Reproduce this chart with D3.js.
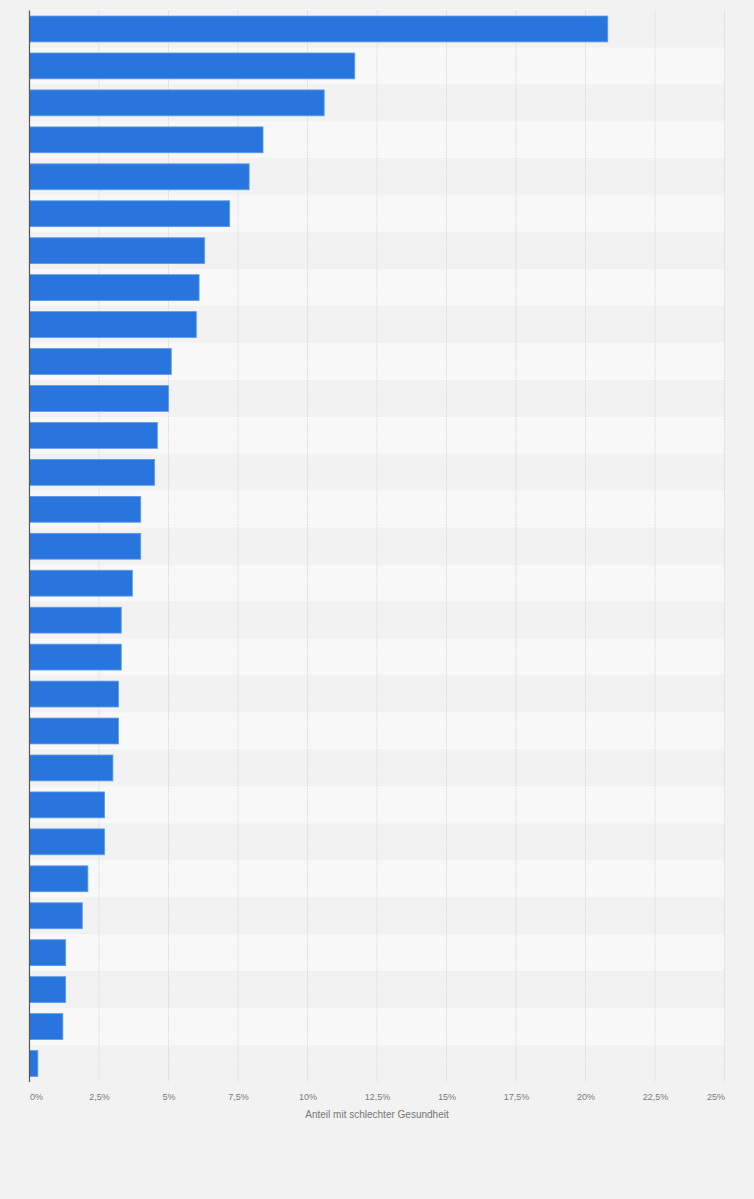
<!DOCTYPE html>
<html>
<head>
<meta charset="utf-8">
<script src="https://cdn.jsdelivr.net/npm/d3@7"></script>
<style>
  body { margin: 0; background: #f2f2f2; }
  svg { display: block; font-family: "Liberation Sans", Arial, sans-serif; }
</style>
</head>
<body>
<svg id="chart"></svg>
<script>
// rank of each bar (no category labels are shown in the chart)
const categories = ["1", "2", "3", "4", "5", "6", "7", "8", "9", "10",
  "11", "12", "13", "14", "15", "16", "17", "18", "19", "20",
  "21", "22", "23", "24", "25", "26", "27", "28", "29"];
const shares = [20.8, 11.7, 10.6, 8.4, 7.9, 7.2, 6.3, 6.1, 6.0, 5.1,
  5.0, 4.6, 4.5, 4.0, 4.0, 3.7, 3.3, 3.3, 3.2, 3.2,
  3.0, 2.7, 2.7, 2.1, 1.9, 1.3, 1.3, 1.2, 0.3];
const tickValues = [0, 2.5, 5, 7.5, 10, 12.5, 15, 17.5, 20, 22.5, 25];
const tickLabels = ["0%", "2,5%", "5%", "7,5%", "10%", "12,5%", "15%", "17,5%", "20%", "22,5%", "25%"];
const axisTitle = "Anteil mit schlechter Gesundheit";

const svgWidth = 754, svgHeight = 1199;
const margin = { top: 10.5, right: 29.5, bottom: 117, left: 29.5 };

const barColor = "#2876dd";

const svg = d3.select("#chart")
  .attr("width", svgWidth)
  .attr("height", svgHeight);

const xScale = d3.scaleLinear().domain([0, 25])
  .range([margin.left, svgWidth - margin.right]);

const yScale = d3.scaleBand().domain(categories)
  .range([margin.top, svgHeight - margin.bottom])
  .paddingInner(0.3)
  .paddingOuter(0.15);

const rowScale = d3.scaleBand().domain(categories)
  .range([margin.top, svgHeight - margin.bottom]);

// alternating row stripes
svg.append("g")
  .selectAll("rect")
  .data(categories)
  .enter()
  .append("rect")
  .attr("x", margin.left)
  .attr("y", d => rowScale(d))
  .attr("width", xScale(25) - margin.left)
  .attr("height", rowScale.bandwidth())
  .attr("fill", (d, i) => i % 2 === 0 ? "#f2f2f2" : "#f8f8f8");

// vertical grid lines
svg.append("g")
  .selectAll("line")
  .data(tickValues.slice(1))
  .enter()
  .append("line")
  .attr("x1", d => xScale(d))
  .attr("x2", d => xScale(d))
  .attr("y1", margin.top)
  .attr("y2", svgHeight - margin.bottom)
  .attr("stroke", "#dcdcdc")
  .attr("stroke-width", 1)
  .attr("stroke-dasharray", "2,1");

// bars
svg.append("g")
  .selectAll("rect")
  .data(shares)
  .enter()
  .append("rect")
  .attr("x", xScale(0))
  .attr("y", (d, i) => yScale(categories[i]))
  .attr("width", d => xScale(d) - xScale(0))
  .attr("height", yScale.bandwidth())
  .attr("fill", barColor)
  .attr("stroke", "#5d9aea")
  .attr("stroke-width", 0.8);

// x axis: only labels, no domain line
const xAxis = d3.axisBottom(xScale)
  .tickValues(tickValues)
  .tickSize(0)
  .tickPadding(12)
  .tickFormat((d, i) => tickLabels[i]);

const xAxisG = svg.append("g")
  .attr("transform", `translate(0, ${svgHeight - margin.bottom})`)
  .call(xAxis);
xAxisG.select(".domain").remove();
xAxisG.selectAll("text")
  .attr("font-size", "9px")
  .attr("font-family", "Liberation Sans, Arial, sans-serif")
  .attr("fill", "#7a7a7a")
  .attr("text-anchor", (d, i) => i === 0 ? "start" : (i === tickValues.length - 1 ? "end" : "middle"));

// left axis line
svg.append("line")
  .attr("x1", xScale(0))
  .attr("x2", xScale(0))
  .attr("y1", margin.top)
  .attr("y2", svgHeight - margin.bottom)
  .attr("stroke", "#555")
  .attr("stroke-width", 1.2);

// axis title
svg.append("text")
  .attr("x", (xScale(0) + xScale(25)) / 2)
  .attr("y", svgHeight - margin.bottom + 36)
  .attr("text-anchor", "middle")
  .attr("font-size", "10px")
  .attr("fill", "#777")
  .text(axisTitle);
</script>
</body>
</html>
